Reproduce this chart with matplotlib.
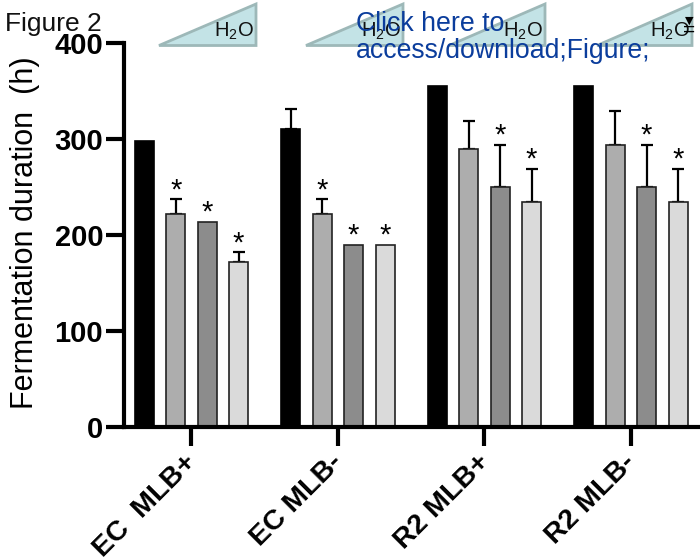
import matplotlib
matplotlib.use("Agg")
import matplotlib.pyplot as plt
import matplotlib.transforms as mtrans
import numpy as np
from matplotlib.patches import Polygon

categories = ["EC  MLB+", "EC MLB-", "R2 MLB+", "R2 MLB-"]
values = [
    [298, 310, 355, 355],
    [222, 222, 290, 294],
    [214, 190, 250, 250],
    [172, 190, 234, 234],
]
errors = [
    [0, 21, 0, 0],
    [15, 15, 29, 35],
    [0, 0, 44, 44],
    [10, 0, 35, 35],
]
stars = [
    [False, False, False, False],
    [True, True, False, False],
    [True, True, True, True],
    [True, True, True, True],
]
colors = ["#000000", "#adadad", "#8c8c8c", "#dadada"]
yticks = [0, 100, 200, 300, 400]

W, H = 700, 560
plt.rcParams["font.family"] = ["Liberation Sans", "DejaVu Sans"]
fig = plt.figure(figsize=(7, 5.6), dpi=100)
ax = fig.add_axes([124 / W, 1 - 427 / H, 576 / W, 384 / H])
ax.patch.set_alpha(0)

gap = 146.5
xs = (191 - 124) / gap
ax.set_xlim(0, 576 / gap)
ax.set_ylim(0, 400)
group_pos = xs + np.arange(4)
step = 31.4 / gap
bw = 19 / gap
offset = 0.4 / gap
for i in range(4):
    x = group_pos + (i - 1.5) * step + offset
    ax.bar(x, values[i], width=bw, color=colors[i], edgecolor="#222222" if i else "black",
           linewidth=1.2, zorder=2, clip_on=False)
    for xi, v, e, s in zip(x, values[i], errors[i], stars[i]):
        if e > 0:
            ax.errorbar(xi, v, yerr=[[0], [e]], color="black", capsize=4, lw=1.6,
                        capthick=1.6, zorder=1, clip_on=False)
        if s:
            ax.text(xi, v + e - 5, "*", ha="center", va="bottom", fontsize=21, color="black",
                    zorder=3)

for s in ["top", "right"]:
    ax.spines[s].set_visible(False)
for s in ["left", "bottom"]:
    ax.spines[s].set_linewidth(3)
ax.set_yticks(yticks)
ax.set_yticklabels([str(t) for t in yticks], fontsize=21, fontweight="bold")
ax.tick_params(axis="y", width=3, length=13, pad=2)
ax.set_xticks(group_pos)
ax.set_xticklabels(categories, fontsize=20.5, fontweight="bold", rotation=45, ha="right",
                   rotation_mode="anchor")
ax.tick_params(axis="x", width=3, length=14, pad=2)
shift = mtrans.ScaledTranslation(-8 / 100, 0, fig.dpi_scale_trans)
for lab in ax.get_xticklabels():
    lab.set_transform(lab.get_transform() + shift)
ax.set_ylabel("Fermentation duration  (h)", fontsize=22, labelpad=0)
ax.yaxis.set_label_coords((40 - 124) / 576, 0.505)

# H2O triangles
for left, right in [(159, 256), (306, 403), (449, 545), (597, 692)]:
    tri = Polygon([(left / W, 1 - 45.5 / H), (right / W, 1 - 4 / H), (right / W, 1 - 45.5 / H)],
                  closed=True, transform=fig.transFigure, facecolor="#c3e3e6",
                  edgecolor="#9db8b8", linewidth=2, zorder=5)
    fig.add_artist(tri)
    fig.text((right - 2) / W, 1 - 31 / H, r"H$_{\mathregular{2}}$O", ha="right", va="center",
             fontsize=14.5, color="#111111", zorder=6)

fig.text(5 / W, 1 - 24 / H, "Figure 2", ha="left", va="center", fontsize=19, color="#111111", zorder=7)
fig.text(356 / W, 1 - 24 / H, "Click here to", ha="left", va="center", fontsize=19.3,
         color="#0b3d9c", zorder=8)
fig.text(356 / W, 1 - 51 / H, "access/download;Figure;", ha="left", va="center", fontsize=19.2,
         color="#0b3d9c", zorder=8)

# download icon
fig.text(689 / W, 1 - 21 / H, "\u25bc", ha="center", va="center", fontsize=8, color="black",
         family="DejaVu Sans", zorder=9)
fig.text(689 / W, 1 - 30 / H, "=", ha="center", va="center", fontsize=15, color="black", zorder=9)

fig.savefig("out.png", dpi=100)
